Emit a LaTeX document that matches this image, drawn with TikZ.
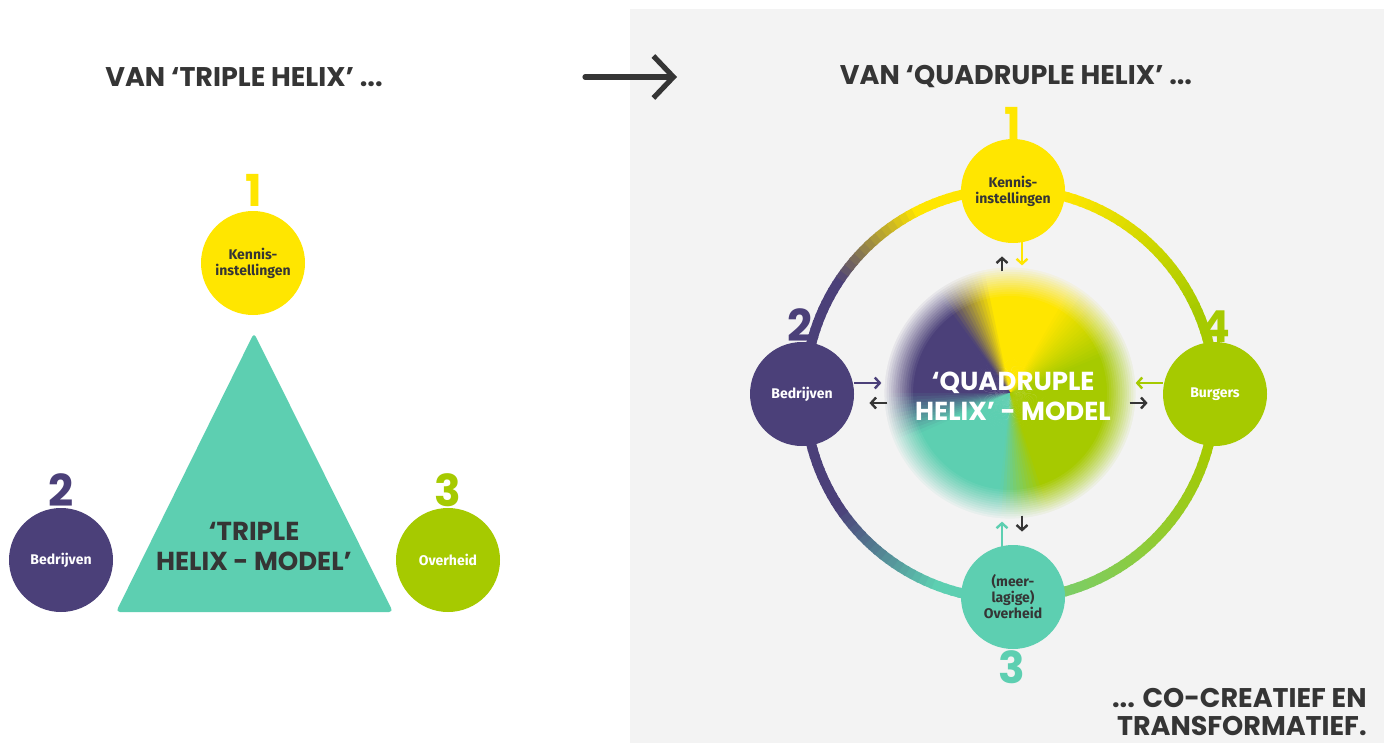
\documentclass[tikz,border=0pt]{standalone}
\usepackage{fontspec}
\setmainfont{Fira Sans}
\newfontfamily\headfont{Poppins}
\usetikzlibrary{arrows.meta,calc}

\definecolor{yellowH}{HTML}{FFE600}
\definecolor{purpleH}{HTML}{4B4079}
\definecolor{mintH}{HTML}{5DCFB1}
\definecolor{greenH}{HTML}{A6CA00}
\definecolor{ink}{HTML}{353535}
\definecolor{panel}{HTML}{F3F3F3}

\tikzset{
  bubble/.style={circle, minimum size=52pt, inner sep=0pt, align=center, text=ink,
    font=\bfseries\fontsize{7}{8}\selectfont},
  digit/.style={inner sep=0pt, font=\headfont\bfseries\fontsize{22}{22}\selectfont},
  heading/.style={inner sep=0pt, align=right, text=ink, font=\headfont\bfseries\fontsize{13.5}{14}\selectfont},
  model/.style={inner sep=0pt, align=center, font=\headfont\bfseries\fontsize{13}{15}\selectfont},
  ringseg/.style={line width=5pt},
  tip/.style={line width=1.2pt, -{Straight Barb[length=2.5pt,width=5.5pt]}},
  bigarrow/.style={ink, line width=2.6pt, line cap=round, -{Straight Barb[length=10pt,width=21pt]}},
}

\begin{document}
\begin{tikzpicture}[x=0.5pt,y=-0.5pt]
\useasboundingbox (0,0) rectangle (1384,743);
\fill[white] (0,0) rectangle (1384,743);
\fill[panel] (630,9) rectangle (1384,743);

% triple helix
\node[heading] (titleL) at (244,77) {VAN ‘TRIPLE HELIX’ ...};
\fill[mintH, rounded corners=2pt] (254,333) -- (393,612) -- (116,612) -- cycle;
\node[model, text=ink] (tripleM) at (254,546) {‘TRIPLE\\HELIX - MODEL’};
\node[bubble, fill=yellowH] (kennisL) at (253,263) {Kennis-\\instellingen};
\node[bubble, fill=purpleH, text=white] (bedrijfL) at (61,560) {Bedrijven};
\node[bubble, fill=greenH, text=white] (overheidL) at (448,560) {Overheid};
\node[digit, yellowH] (oneL) at (254,190) {1};
\node[digit, purpleH] (twoL) at (61,490) {2};
\node[digit, greenH] (threeL) at (448,490) {3};

\coordinate (goA) at (585,77);
\coordinate (goB) at (677,77);
\draw[bigarrow] (goA) -- (goB);

% quadruple helix
\node[heading] (titleR) at (1016,77) {VAN ‘QUADRUPLE HELIX’ ...};
\coordinate (hub) at (1010,394);
\foreach \a in {180,182,...,268}{
  \pgfmathtruncatemacro\pmix{min(100,max(0,(\a-212)*100/30))}
  \draw[ringseg, yellowH!\pmix!purpleH] (hub) ++(\a:205) arc[start angle=\a, end angle=\a+2.6, radius=205];
}
\foreach \a in {270,272,...,358}{
  \pgfmathtruncatemacro\pmix{min(100,max(0,(\a-285)*100/50))}
  \draw[ringseg, greenH!\pmix!yellowH] (hub) ++(\a:205) arc[start angle=\a, end angle=\a+2.6, radius=205];
}
\foreach \a in {0,2,...,88}{
  \pgfmathtruncatemacro\pmix{min(65,max(0,(\a-15)))}
  \draw[ringseg, mintH!\pmix!greenH] (hub) ++(\a:205) arc[start angle=\a, end angle=\a+2.6, radius=205];
}
\foreach \a in {90,92,...,178}{
  \pgfmathtruncatemacro\pmix{min(100,max(0,(\a-110)*100/35))}
  \draw[ringseg, purpleH!\pmix!mintH] (hub) ++(\a:205) arc[start angle=\a, end angle=\a+2.6, radius=205];
}

% blurred model: coloured pinwheel, then a soft edge in the panel colour
\coordinate (blob) at (1010,393);
\foreach \a in {340,342,...,436}{
  \pgfmathtruncatemacro\pmix{min(100,max(0,(\a-380)*100/40))}
  \fill[yellowH!\pmix!greenH] (blob) -- ++(-\a:130) arc[start angle=-\a, end angle=-\a-2.8, radius=130] -- cycle;
}
\foreach \a in {78,80,...,150}{
  \pgfmathtruncatemacro\pmix{min(100,max(0,(\a-100)*4))}
  \fill[purpleH!\pmix!yellowH] (blob) -- ++(-\a:130) arc[start angle=-\a, end angle=-\a-2.8, radius=130] -- cycle;
}
\foreach \a in {152,154,...,230}{
  \pgfmathtruncatemacro\pmix{min(100,max(0,(\a-178)*4))}
  \fill[mintH!\pmix!purpleH] (blob) -- ++(-\a:130) arc[start angle=-\a, end angle=-\a-2.8, radius=130] -- cycle;
}
\foreach \a in {232,234,...,338}{
  \pgfmathtruncatemacro\pmix{min(100,max(0,(\a-263)*4))}
  \fill[greenH!\pmix!mintH] (blob) -- ++(-\a:130) arc[start angle=-\a, end angle=-\a-2.8, radius=130] -- cycle;
}
\foreach \k in {1,...,14}{
  \fill[panel, opacity={1/(15-\k)}, even odd rule] (blob) circle[radius=142] (blob) circle[radius={97+2.2*(\k-1)}];
}
\node[model, text=white] (quadM) at (1013,396) {‘QUADRUPLE\\HELIX’ - MODEL};

\node[bubble, fill=yellowH] (kennisR) at (1013,191) {Kennis-\\instellingen};
\node[bubble, fill=purpleH, text=white] (bedrijfR) at (802,394) {Bedrijven};
\node[bubble, fill=greenH, text=white] (burgerR) at (1215,394) {Burgers};
\node[bubble, fill=mintH] (overheidR) at (1013,597) {(meer-\\lagige)\\Overheid};
\node[digit, yellowH] (oneR) at (1013,123) {1};
\node[digit, purpleH] (twoR) at (800,325) {2};
\node[digit, greenH] (fourR) at (1215,327) {4};
\node[digit, mintH] (threeR) at (1012,667) {3};

\draw[tip, purpleH] ($(bedrijfR.east)+(0,-11)$) -- ++(27,0);
\draw[tip, ink] ($(bedrijfR.east)+(33,9)$) -- ++(-18,0);
\draw[tip, greenH] ($(burgerR.west)+(0,-11)$) -- ++(-27,0);
\draw[tip, ink] ($(burgerR.west)+(-33,9)$) -- ++(18,0);
\draw[tip, ink] ($(kennisR.south)+(-11,28)$) -- ++(0,-15);
\draw[tip, yellowH] ($(kennisR.south)+(9,-2)$) -- ++(0,24);
\draw[tip, mintH] ($(overheidR.north)+(-11,2)$) -- ++(0,-25);
\draw[tip, ink] ($(overheidR.north)+(9,-29)$) -- ++(0,16);

\node[heading, anchor=east] (slogan) at (1367,712) {... CO-CREATIEF EN\\TRANSFORMATIEF.};
\end{tikzpicture}
\end{document}
